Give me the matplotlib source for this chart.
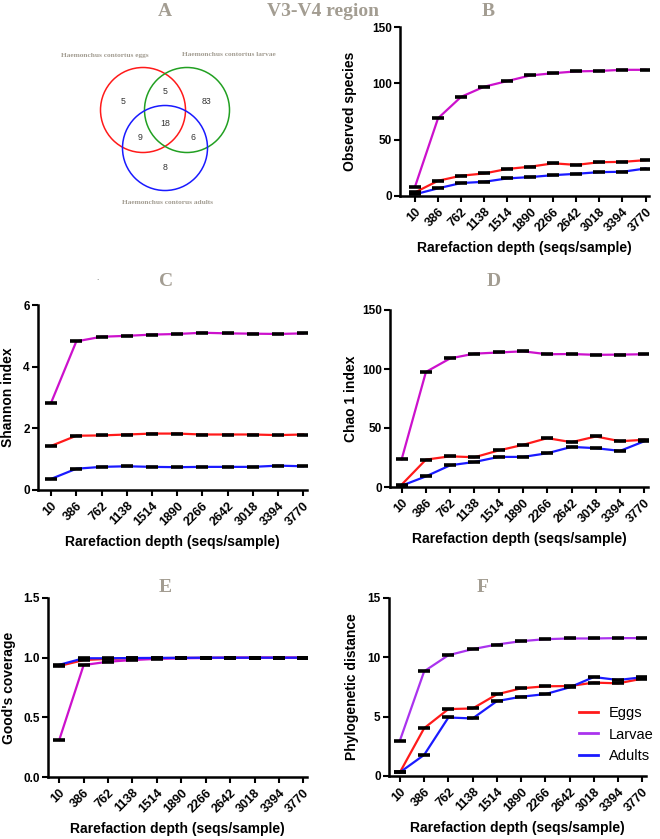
import matplotlib.pyplot as plt
from matplotlib.patches import Circle

W, H = 660, 839

depths = ["10", "386", "762", "1138", "1514", "1890", "2266", "2642", "3018", "3394", "3770"]
groups = ["Eggs", "Larvae", "Adults"]

# B: observed species
obs_eggs = [3.2, 13.5, 18, 20, 24, 26, 29, 27.6, 30, 30.3, 31.8]
obs_larvae = [8.2, 69, 88, 97, 102, 107, 109, 110.6, 111, 112, 112]
obs_adults = [1.5, 6.8, 11.5, 12.6, 15.6, 16.8, 18.5, 19.7, 21.2, 21.5, 24.4]

# C: shannon
sha_eggs = [1.43, 1.76, 1.77, 1.8, 1.83, 1.83, 1.8, 1.8, 1.8, 1.78, 1.8]
sha_larvae = [2.83, 4.82, 4.97, 5.0, 5.04, 5.06, 5.1, 5.08, 5.07, 5.06, 5.08]
sha_adults = [0.36, 0.69, 0.75, 0.77, 0.75, 0.74, 0.75, 0.75, 0.75, 0.79, 0.77]

# D: chao1
chao_eggs = [2, 23.2, 26, 25.2, 31, 35.7, 41.4, 38, 42.8, 38.8, 40]
chao_larvae = [23.5, 97.5, 109, 113, 114, 115, 112.5, 112.7, 112, 112.2, 112.5]
chao_adults = [1.1, 9, 18.4, 21.2, 25.5, 25.5, 28.6, 34, 32.9, 30.6, 38.8]

# E: good's coverage
gc_eggs = [0.93, 0.98, 0.99, 0.995, 0.996, 0.998, 0.999, 1.0, 1.0, 1.0, 1.0]
gc_larvae = [0.31, 0.938, 0.966, 0.98, 0.99, 0.995, 0.997, 0.999, 1.0, 1.0, 1.0]
gc_adults = [0.94, 0.995, 0.995, 0.997, 0.998, 0.999, 1.0, 1.0, 1.0, 1.0, 1.0]

# F: phylogenetic distance
pd_eggs = [0.31, 4.03, 5.64, 5.69, 6.88, 7.39, 7.56, 7.58, 7.87, 7.81, 8.2]
pd_larvae = [2.99, 8.82, 10.18, 10.69, 11.08, 11.36, 11.53, 11.59, 11.59, 11.62, 11.62]
pd_adults = [0.31, 1.78, 4.93, 4.85, 6.31, 6.68, 6.9, 7.47, 8.34, 8.09, 8.32]

venn_counts = [5, 5, 83, 18, 9, 6, 8]
venn_names = ["Haemonchus contortus eggs", "Haemonchus contortus larvae", "Haemonchus contorus adults"]

RED = "#ff1a1a"
MAG = "#cc11cc"
VIO = "#aa33ee"
BLUE = "#1a1aff"
GRAY = "#a39d92"

plt.rcParams["font.family"] = ["Liberation Sans", "DejaVu Sans"]

fig = plt.figure(figsize=(W / 100, H / 100), dpi=100)


def px_axes(left, top, right, bottom):
    return fig.add_axes([left / W, 1 - bottom / H, (right - left) / W, (bottom - top) / H])


def panel(ax, series, ylabel, ymax, ystep, xl, yfmt, ylpad=4, larvae_color=MAG):
    x = list(range(len(depths)))
    colors = [RED, larvae_color, BLUE]
    handles = []
    for vals, c, name in zip(series, colors, groups):
        ax.plot(x, vals, color=c, lw=1.6, zorder=2)
        ax.plot(x, vals, ls="none", marker="_", ms=9, mew=2.6, mec="black", zorder=3)
        h, = ax.plot([], [], color=c, lw=2, label=name)
        handles.append(h)
    ax.set_xlim(xl, 10.15)
    ax.set_ylim(0, ymax)
    yt = [i * ystep for i in range(int(round(ymax / ystep)) + 1)]
    ax.set_yticks(yt)
    ax.set_yticklabels([yfmt.format(v) for v in yt], fontsize=8.5, fontweight="bold")
    ax.set_xticks(x)
    ax.set_xticklabels(depths, rotation=45, ha="right", rotation_mode="anchor",
                       fontsize=9, fontweight="bold")
    for s in ["top", "right"]:
        ax.spines[s].set_visible(False)
    for s in ["left", "bottom"]:
        ax.spines[s].set_linewidth(1.8)
    ax.tick_params(direction="out", length=4, width=1.5, pad=2)
    ax.tick_params(axis="x", pad=3)
    ax.set_ylabel(ylabel, fontsize=10, fontweight="bold", labelpad=ylpad)
    ax.set_xlabel("Rarefaction depth (seqs/sample)", fontsize=10, fontweight="bold", labelpad=5)
    return handles


axB = px_axes(400, 27, 649, 196)
panel(axB, [obs_eggs, obs_larvae, obs_adults], "Observed species", 150, 50, -0.65, "{:.0f}", ylpad=11)

axC = px_axes(38, 305, 307, 490)
panel(axC, [sha_eggs, sha_larvae, sha_adults], "Shannon index", 6, 2, -0.52, "{:.0f}", ylpad=6)

axD = px_axes(390, 310, 648, 487)
panel(axD, [chao_eggs, chao_larvae, chao_adults], "Chao 1 index", 150, 50, -0.48, "{:.0f}", ylpad=3)

axE = px_axes(48, 598, 307, 777)
panel(axE, [gc_eggs, gc_larvae, gc_adults], "Good's coverage", 1.5, 0.5, -0.46, "{:.1f}", ylpad=5)

axF = px_axes(389, 598, 646, 776)
hs = panel(axF, [pd_eggs, pd_larvae, pd_adults], "Phylogenetic distance", 15, 5, -0.45, "{:.0f}",
           ylpad=6, larvae_color=VIO)
axF.legend(handles=hs, loc="upper left", bbox_to_anchor=((579 - 389) / 257, (776 - 706) / 178),
           frameon=False, fontsize=10.5, handlelength=1.3, handletextpad=0.75,
           labelspacing=0.52, borderpad=0, borderaxespad=0)

# overlay for venn diagram and panel letters, in pixel units
ov = fig.add_axes([0, 0, 1, 1], zorder=-1)
ov.set_xlim(0, W)
ov.set_ylim(H, 0)
ov.axis("off")

for (cx, cy), c in zip([(143, 110), (187, 110), (165, 148)], [RED, "#22a022", BLUE]):
    ov.add_patch(Circle((cx, cy), 42.5, fill=False, ec=c, lw=1.1))

count_pos = [(123, 101), (165, 92), (207, 101), (165, 124), (140, 137), (193, 137), (165, 167)]
for (tx, ty), n in zip(count_pos, venn_counts):
    ov.text(tx, ty, str(n), fontsize=6.3, color="#333333", ha="center", va="center")

for (tx, ty), name in zip([(105, 55), (229, 55), (167, 202)], venn_names):
    ov.text(tx, ty, name, fontsize=5.3, color=GRAY, ha="center", va="center",
            family="Liberation Serif", fontweight="bold")

letters = [("A", 165, 11), ("V3-V4 region", 323, 11), ("B", 488, 11),
           ("C", 166, 281), ("D", 494, 281), ("E", 165, 588), ("F", 483, 588)]
for t, tx, ty in letters:
    ov.text(tx, ty, t, fontsize=14, color=GRAY, ha="center", va="center",
            family="Liberation Serif", fontweight="bold")
ov.text(97, 279, ".", fontsize=6, color="#555555", ha="center", va="center")

fig.savefig("out.png", dpi=100)
